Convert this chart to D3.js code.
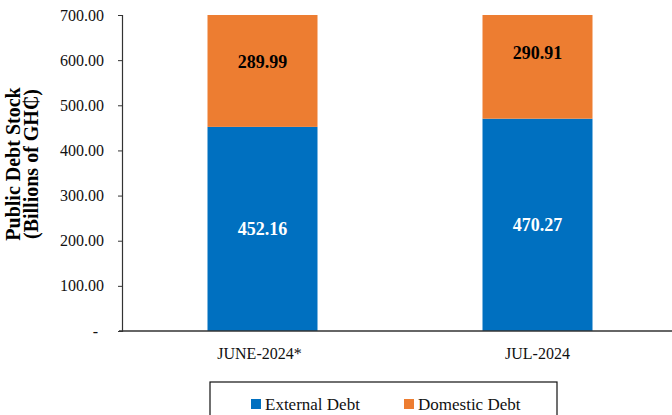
<!DOCTYPE html>
<html>
<head>
<meta charset="utf-8">
<script src="https://cdn.jsdelivr.net/npm/d3@7"></script>
<style>
  body { margin: 0; background: #fff; }
  svg { display: block; font-family: "Liberation Serif", "Times New Roman", serif; }
</style>
</head>
<body>
<svg width="672" height="415"></svg>
<script>
const months = ['JUNE-2024*', 'JUL-2024']
const external = [452.16, 470.27]
const domestic = [289.99, 290.91]
const seriesNames = ['External Debt', 'Domestic Debt']
const colors = ['#0070C0', '#ED7D31']
const yTicks = [0, 100, 200, 300, 400, 500, 600, 700]

const svg = d3.select('svg')

const x = d3.scaleBand()
  .domain(months)
  .range([125, 675])
  .paddingInner(0.6)
  .paddingOuter(0.3)

const y = d3.scaleLinear().domain([0, 700]).range([331, 15])

const rows = months.map((m, i) => ({ month: m, ext: external[i], dom: domestic[i] }))
const stack = d3.stack().keys(['ext', 'dom'])(rows)

// bars (clipped at top of axis like the original)
stack.forEach((layer, li) => {
  svg.append('g')
    .selectAll('rect')
    .data(layer)
    .enter().append('rect')
    .attr('x', d => x(d.data.month))
    .attr('width', x.bandwidth())
    .attr('y', d => y(Math.min(d[1], 700)))
    .attr('height', d => y(Math.min(d[0], 700)) - y(Math.min(d[1], 700)))
    .attr('fill', colors[li])

  svg.append('g')
    .selectAll('text')
    .data(layer)
    .enter().append('text')
    .attr('x', d => x(d.data.month) + x.bandwidth() / 2)
    .attr('y', d => y((d[0] + d[1]) / 2))
    .attr('dy', '0.35em')
    .attr('text-anchor', 'middle')
    .attr('font-size', 18)
    .attr('font-weight', 'bold')
    .attr('fill', li === 0 ? '#fff' : '#000')
    .text(d => d3.format('.2f')(d[1] - d[0]))
})

// y axis
const yAxis = svg.append('g')
  .attr('transform', 'translate(122,0)')
  .call(d3.axisLeft(y).tickValues(yTicks).tickSize(4).tickPadding(14)
    .tickFormat(d => d === 0 ? '-' : d3.format('.2f')(d)))
yAxis.select('.domain').attr('stroke', '#333').attr('stroke-width', 1.2)
yAxis.selectAll('.tick line').attr('stroke', '#333')
yAxis.selectAll('text')
  .attr('font-family', '"Liberation Serif", serif')
  .attr('font-size', 16)
  .attr('fill', '#111')
yAxis.selectAll('.tick').filter(d => d === 0).select('text').attr('dx', -6)

// x axis baseline
svg.append('line')
  .attr('x1', 119).attr('x2', 672)
  .attr('y1', y(0)).attr('y2', y(0))
  .attr('stroke', '#333').attr('stroke-width', 1.5)

svg.append('g')
  .selectAll('text')
  .data(months)
  .enter().append('text')
  .attr('x', (d, i) => x(d) + x.bandwidth() / 2 - (i === 0 ? 3 : 0))
  .attr('y', 359)
  .attr('text-anchor', 'middle')
  .attr('font-size', 16)
  .attr('fill', '#111')
  .text(d => d)

// y title
const title = svg.append('text')
  .attr('transform', 'translate(0,164) rotate(-90)')
  .attr('text-anchor', 'middle')
  .attr('font-size', 20)
  .attr('font-weight', 'bold')
title.append('tspan').attr('x', 0).attr('y', 20).text('Public Debt Stock')
title.append('tspan').attr('x', 0).attr('y', 38).text('(Billions of GH₵)')

// legend
const legend = svg.append('g')
legend.append('rect')
  .attr('x', 210).attr('y', 382)
  .attr('width', 347).attr('height', 40)
  .attr('fill', '#fff').attr('stroke', '#111').attr('stroke-width', 1.2)

const legendX = [251, 404]
seriesNames.forEach((name, i) => {
  legend.append('rect')
    .attr('x', legendX[i]).attr('y', 399)
    .attr('width', 10).attr('height', 10)
    .attr('fill', colors[i])
  legend.append('text')
    .attr('x', legendX[i] + 14).attr('y', 404)
    .attr('dy', '0.35em')
    .attr('font-size', 17)
    .attr('fill', '#111')
    .text(name)
})
</script>
</body>
</html>
